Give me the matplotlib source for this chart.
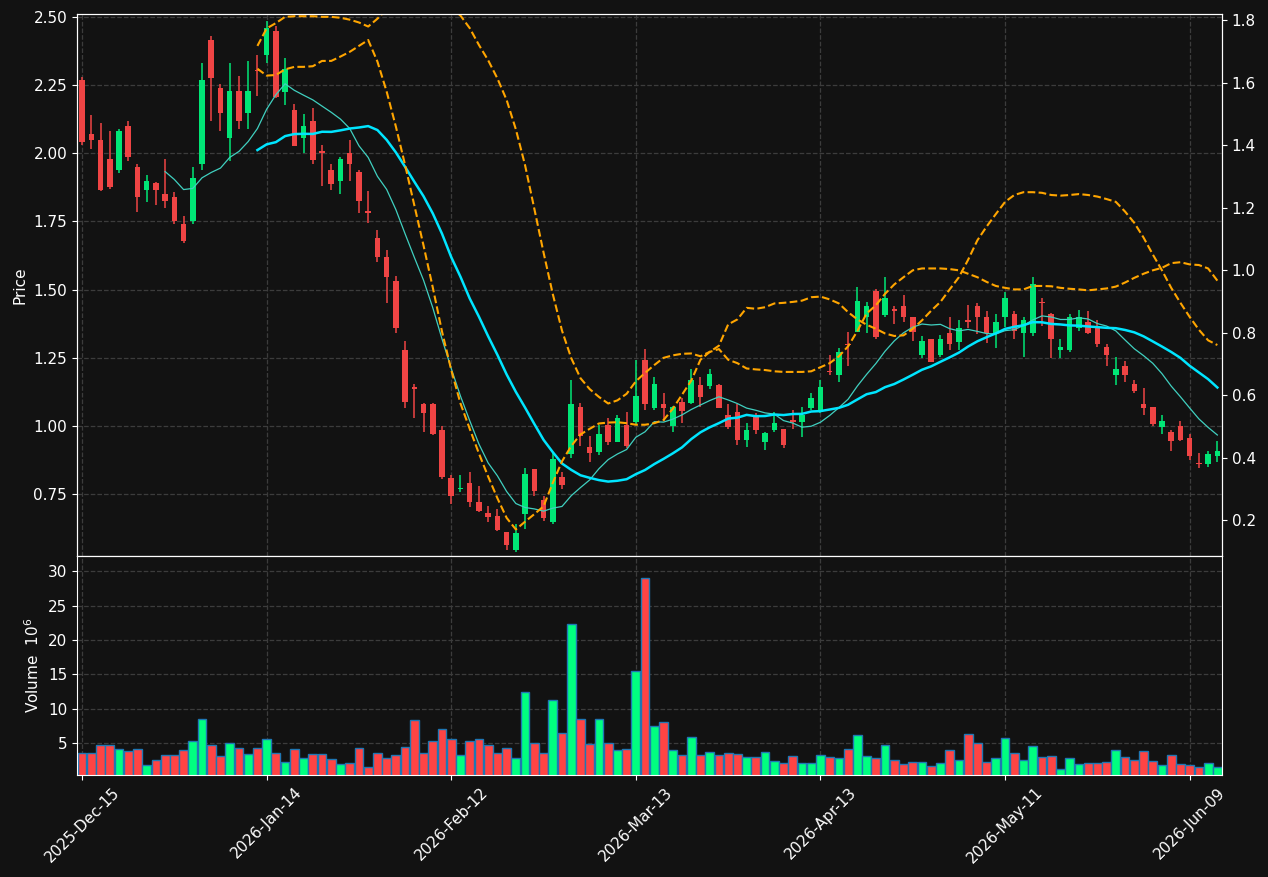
import numpy as np
import pandas as pd
import matplotlib
matplotlib.use("Agg")
import matplotlib.pyplot as plt

# OHLC (one entry per trading day, Dec 15 2025 .. Jun 12 2026)
opens = [2.268, 2.070, 2.049, 1.979, 1.937, 2.100, 1.950, 1.867, 1.892, 1.851,
         1.840, 1.741, 1.750, 1.959, 2.415, 2.240, 2.058, 2.229, 2.149, 2.307,
         2.359, 2.449, 2.226, 2.159, 2.058, 2.119, 2.009, 1.939, 1.897, 2.001,
         1.932, 1.789, 1.690, 1.620, 1.532, 1.280, 1.141, 1.082, 1.082, 0.986,
         0.810, 0.767, 0.792, 0.719, 0.682, 0.670, 0.612, 0.544, 0.676, 0.840,
         0.729, 0.646, 0.814, 0.898, 1.070, 0.921, 0.905, 1.002, 0.940, 1.002,
         1.015, 1.240, 1.066, 1.082, 0.998, 1.088, 1.085, 1.151, 1.148, 1.150,
         1.040, 1.051, 0.947, 1.037, 0.940, 0.986, 0.989, 1.020, 1.015, 1.066,
         1.051, 1.200, 1.188, 1.301, 1.346, 1.398, 1.493, 1.408, 1.430, 1.440,
         1.400, 1.259, 1.319, 1.259, 1.341, 1.309, 1.389, 1.440, 1.400, 1.340,
         1.398, 1.411, 1.340, 1.340, 1.453, 1.411, 1.277, 1.277, 1.358, 1.382,
         1.358, 1.289, 1.188, 1.220, 1.155, 1.082, 1.070, 0.995, 0.979, 0.999,
         0.957, 0.862, 0.859, 0.889]
highs = [2.279, 2.140, 2.110, 2.081, 2.088, 2.117, 1.960, 1.919, 1.896, 1.978,
         1.857, 1.770, 1.948, 2.330, 2.429, 2.253, 2.330, 2.283, 2.338, 2.361,
         2.487, 2.468, 2.348, 2.181, 2.146, 2.168, 2.029, 1.960, 1.988, 2.047,
         1.938, 1.861, 1.718, 1.645, 1.551, 1.312, 1.152, 1.085, 1.083, 0.998,
         0.819, 0.819, 0.831, 0.781, 0.706, 0.696, 0.612, 0.639, 0.847, 0.842,
         0.742, 0.899, 0.831, 1.169, 1.083, 0.963, 1.004, 1.030, 1.040, 1.051,
         1.240, 1.281, 1.179, 1.120, 1.073, 1.101, 1.210, 1.179, 1.210, 1.152,
         1.079, 1.079, 1.011, 1.049, 0.979, 1.051, 0.989, 1.060, 1.070, 1.121,
         1.169, 1.259, 1.285, 1.343, 1.510, 1.456, 1.501, 1.546, 1.439, 1.480,
         1.400, 1.330, 1.320, 1.332, 1.400, 1.388, 1.443, 1.449, 1.420, 1.409,
         1.490, 1.422, 1.398, 1.548, 1.469, 1.413, 1.319, 1.411, 1.426, 1.422,
         1.388, 1.301, 1.253, 1.237, 1.169, 1.139, 1.070, 1.040, 0.986, 1.017,
         0.972, 0.899, 0.908, 0.944]
lows = [2.031, 2.015, 1.860, 1.869, 1.929, 1.971, 1.786, 1.821, 1.809, 1.799,
        1.741, 1.671, 1.740, 1.938, 2.118, 2.081, 1.971, 2.088, 2.088, 2.211,
        2.330, 2.204, 2.178, 2.027, 2.001, 1.960, 1.879, 1.867, 1.851, 1.898,
        1.782, 1.744, 1.600, 1.451, 1.340, 1.066, 1.028, 0.976, 0.967, 0.805,
        0.712, 0.756, 0.702, 0.684, 0.648, 0.615, 0.545, 0.539, 0.622, 0.743,
        0.651, 0.640, 0.767, 0.882, 0.925, 0.869, 0.892, 0.931, 0.939, 0.918,
        1.008, 1.060, 1.060, 1.019, 0.976, 1.011, 1.082, 1.069, 1.137, 1.066,
        0.989, 0.929, 0.921, 0.970, 0.911, 0.979, 0.918, 0.989, 0.959, 1.060,
        1.047, 1.188, 1.160, 1.218, 1.345, 1.340, 1.317, 1.400, 1.372, 1.381,
        1.310, 1.249, 1.235, 1.253, 1.278, 1.278, 1.358, 1.336, 1.304, 1.287,
        1.362, 1.317, 1.253, 1.330, 1.366, 1.249, 1.249, 1.272, 1.349, 1.338,
        1.289, 1.219, 1.150, 1.160, 1.120, 1.040, 0.999, 0.970, 0.908, 0.946,
        0.873, 0.845, 0.850, 0.867]
closes = [2.040, 2.047, 1.866, 1.878, 2.082, 1.988, 1.838, 1.898, 1.867, 1.826,
          1.750, 1.677, 1.908, 2.268, 2.278, 2.149, 2.229, 2.117, 2.229, 2.303,
          2.460, 2.208, 2.310, 2.028, 2.100, 1.977, 2.000, 1.889, 1.979, 1.959,
          1.826, 1.780, 1.618, 1.548, 1.358, 1.088, 1.137, 1.049, 0.970, 0.813,
          0.742, 0.769, 0.719, 0.687, 0.665, 0.617, 0.562, 0.607, 0.824, 0.761,
          0.661, 0.878, 0.782, 1.082, 0.962, 0.899, 0.972, 0.940, 1.030, 0.927,
          1.111, 1.079, 1.152, 1.066, 1.070, 1.056, 1.169, 1.107, 1.191, 1.066,
          0.995, 0.947, 0.985, 0.986, 0.974, 1.012, 0.931, 1.016, 1.040, 1.101,
          1.141, 1.196, 1.272, 1.296, 1.458, 1.439, 1.327, 1.469, 1.420, 1.398,
          1.346, 1.312, 1.236, 1.319, 1.300, 1.358, 1.380, 1.398, 1.340, 1.382,
          1.469, 1.349, 1.389, 1.521, 1.449, 1.317, 1.289, 1.400, 1.400, 1.339,
          1.300, 1.259, 1.210, 1.188, 1.127, 1.066, 1.008, 1.018, 0.944, 0.947,
          0.889, 0.859, 0.898, 0.909]
# volume in millions
volumes = [3.54, 3.54, 4.81, 4.81, 4.22, 3.83, 4.22, 1.89, 2.52, 3.35,
           3.25, 3.98, 5.29, 8.60, 4.81, 3.10, 5.10, 4.37, 3.49, 4.37,
           5.68, 3.64, 2.33, 4.12, 2.91, 3.49, 3.49, 2.67, 2.03, 2.18,
           4.37, 1.50, 3.54, 2.81, 3.25, 4.42, 8.36, 3.64, 5.29, 7.04,
           5.58, 3.35, 5.29, 5.58, 4.71, 3.54, 4.27, 2.91, 12.44, 5.00,
           3.54, 11.27, 6.46, 22.36, 8.50, 4.85, 8.50, 5.00, 3.98, 4.12,
           15.51, 29.08, 7.48, 8.06, 3.98, 3.25, 5.88, 3.25, 3.69, 3.25,
           3.54, 3.39, 2.96, 2.96, 3.69, 2.37, 2.08, 3.10, 2.18, 2.18,
           3.25, 2.96, 2.81, 4.12, 6.17, 3.10, 2.81, 4.71, 2.52, 1.94,
           2.23, 2.23, 1.64, 2.08, 3.98, 2.52, 6.31, 5.00, 2.23, 2.81,
           5.73, 3.54, 2.52, 4.56, 2.96, 3.10, 1.21, 2.81, 1.94, 2.08,
           2.08, 2.23, 3.98, 2.96, 2.52, 3.83, 2.37, 1.79, 3.25, 1.94,
           1.79, 1.50, 2.08, 1.50]

# two orange dashed series plotted against the right-hand axis (NaN before day 19)
band_a = [np.nan] * 19 + [
    1.718, 1.774, 1.791, 1.811, 1.813, 1.813, 1.813, 1.811, 1.811, 1.808,
    1.802, 1.793, 1.780, 1.805, 1.835, 1.870, 1.900, 1.920, 1.920, 1.900,
    1.870, 1.840, 1.815, 1.775, 1.721, 1.672, 1.614, 1.545, 1.451, 1.336,
    1.197, 1.057, 0.924, 0.807, 0.719, 0.655, 0.620, 0.595, 0.574, 0.584,
    0.605, 0.645, 0.672, 0.697, 0.720, 0.728, 0.733, 0.734, 0.725, 0.739,
    0.748, 0.714, 0.703, 0.686, 0.683, 0.681, 0.677, 0.675, 0.675, 0.675,
    0.677, 0.690, 0.703, 0.725, 0.757, 0.806, 0.862, 0.888, 0.925, 0.955,
    0.978, 1.000, 1.006, 1.006, 1.006, 1.004, 1.000, 0.989, 0.978, 0.963,
    0.950, 0.944, 0.939, 0.939, 0.950, 0.950, 0.949, 0.944, 0.941, 0.939,
    0.936, 0.939, 0.942, 0.948, 0.961, 0.976, 0.989, 1.000, 1.008, 1.023,
    1.026, 1.019, 1.017, 1.006, 0.967]
band_b = [np.nan] * 19 + [
    1.645, 1.623, 1.625, 1.643, 1.651, 1.651, 1.653, 1.670, 1.670, 1.684,
    1.699, 1.718, 1.737, 1.668, 1.572, 1.460, 1.337, 1.208, 1.079, 0.945,
    0.804, 0.681, 0.574, 0.493, 0.414, 0.340, 0.271, 0.208, 0.171, 0.196,
    0.220, 0.245, 0.320, 0.389, 0.438, 0.475, 0.493, 0.510, 0.513, 0.514,
    0.511, 0.506, 0.506, 0.511, 0.521, 0.557, 0.602, 0.647, 0.714, 0.739,
    0.759, 0.827, 0.843, 0.880, 0.877, 0.882, 0.894, 0.896, 0.899, 0.903,
    0.914, 0.916, 0.907, 0.894, 0.866, 0.843, 0.826, 0.813, 0.798, 0.790,
    0.792, 0.813, 0.840, 0.871, 0.899, 0.939, 0.978, 1.034, 1.096, 1.140,
    1.180, 1.219, 1.241, 1.250, 1.250, 1.248, 1.241, 1.239, 1.241, 1.244,
    1.241, 1.236, 1.228, 1.219, 1.188, 1.152, 1.105, 1.051, 1.000, 0.944,
    0.896, 0.851, 0.810, 0.776, 0.761]

tick_pos = [0, 20, 40, 60, 80, 100, 120]
tick_labels = ['2025-Dec-15', '2026-Jan-14', '2026-Feb-12', '2026-Mar-13',
               '2026-Apr-13', '2026-May-11', '2026-Jun-09']

bg = '#121212'
up_c, dn_c = '#00e676', '#ef4444'
vup_c, vdn_c = '#00ff80', '#ff4444'

o = np.array(opens); h = np.array(highs); l = np.array(lows); c = np.array(closes)
x = np.arange(len(c))
up = c >= o
ma10 = pd.Series(c).rolling(10).mean()
ma20 = pd.Series(c).rolling(20).mean()

fig = plt.figure(figsize=(12.68, 8.77), dpi=100, facecolor=bg)
ax = fig.add_axes([0.0607, 0.366, 0.903, 0.618], facecolor=bg)
axv = fig.add_axes([0.0607, 0.1163, 0.903, 0.2497], facecolor=bg, sharex=ax)
ax2 = ax.twinx()

for a in (ax, axv):
    a.grid(True, color='#3c3c3c', linestyle='--', linewidth=0.9)
    a.set_axisbelow(True)
    for s in a.spines.values():
        s.set_color('white')
    a.tick_params(colors='white', labelsize=11)

# candles
cols = np.where(up, up_c, dn_c)
ax.vlines(x, l, h, colors=cols, linewidth=1.1, zorder=2)
body_lo = np.minimum(o, c)
body_h = np.maximum(np.abs(c - o), 0.004)
ax.bar(x, body_h, bottom=body_lo, width=0.6, color=cols, linewidth=0, zorder=3)

ax.plot(x, ma10, color='#40d0c0', linewidth=0.9, zorder=4)
ax.plot(x, ma20, color='#00e5ff', linewidth=1.8, zorder=4)

ax2.plot(x, band_a, color='#ffa500', linestyle='--', linewidth=1.5)
ax2.plot(x, band_b, color='#ffa500', linestyle='--', linewidth=1.5)
ax2.set_ylim(0.086, 1.82)
ax2.set_yticks([0.2, 0.4, 0.6, 0.8, 1.0, 1.2, 1.4, 1.6, 1.8])
ax2.tick_params(colors='white', labelsize=11)
for s in ax2.spines.values():
    s.set_color('white')

ax.set_ylim(0.5225, 2.511)
ax.set_yticks([0.75, 1.0, 1.25, 1.5, 1.75, 2.0, 2.25, 2.5])
ax.set_yticklabels(['%.2f' % v for v in [0.75, 1.0, 1.25, 1.5, 1.75, 2.0, 2.25, 2.5]])
ax.set_ylabel('Price', color='white', fontsize=11)
ax.tick_params(axis='x', labelbottom=False)

# volume
vcols = np.where(up, vup_c, vdn_c)
axv.bar(x, volumes, width=0.95, color=vcols, edgecolor='#1f77b4', linewidth=1.0)
axv.set_ylim(0.4, 32.2)
axv.set_yticks([5, 10, 15, 20, 25, 30])
axv.set_ylabel('Volume  $10^{6}$', color='white', fontsize=11)

axv.set_xlim(-0.55, 123.5)
axv.set_xticks(tick_pos)
axv.set_xticklabels(tick_labels, rotation=45, ha='center')

fig.savefig('out.png', dpi=100, facecolor=bg)
